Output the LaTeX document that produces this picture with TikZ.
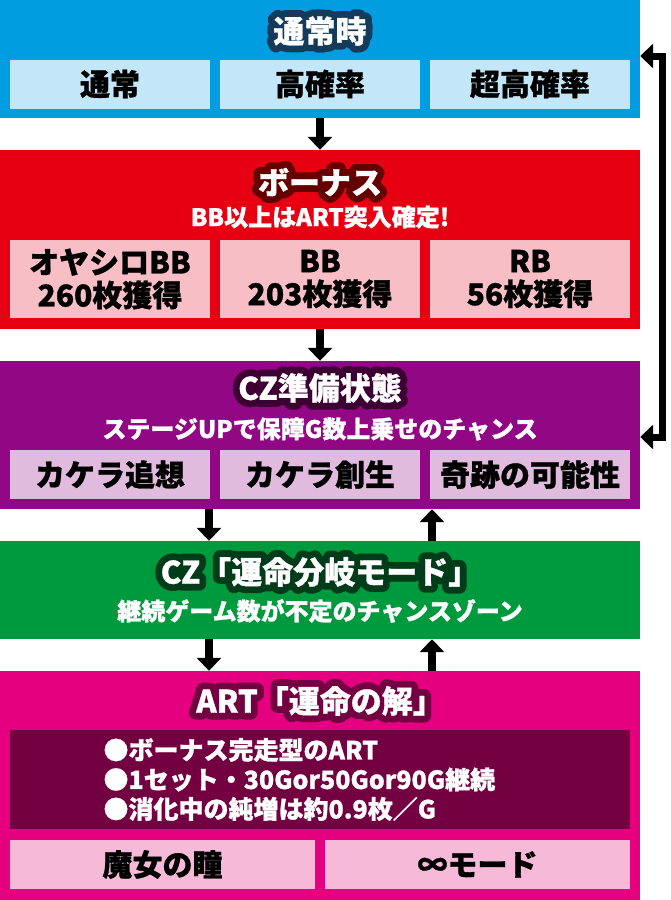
\documentclass[tikz,border=0pt]{standalone}
\usepackage{fontspec}
\setmainfont{Noto Sans CJK JP}[BoldFeatures={FakeBold=1}]
\newfontfamily\outlfont{Noto Sans CJK JP}[UprightFeatures={FakeBold=45}, BoldFeatures={FakeBold=45}]
\usetikzlibrary{arrows.meta}

\definecolor{normblue}{RGB}{0,158,224}
\definecolor{normlight}{RGB}{195,230,248}
\definecolor{normdark}{RGB}{20,60,90}
\definecolor{bonred}{RGB}{230,0,18}
\definecolor{bonlight}{RGB}{248,190,198}
\definecolor{bondark}{RGB}{100,0,0}
\definecolor{prepurple}{RGB}{146,7,131}
\definecolor{prelight}{RGB}{224,187,221}
\definecolor{predark}{RGB}{60,0,50}
\definecolor{czgreen}{RGB}{0,154,62}
\definecolor{czdark}{RGB}{0,60,25}
\definecolor{artpink}{RGB}{228,0,127}
\definecolor{artlight}{RGB}{246,186,216}
\definecolor{artdark}{RGB}{115,0,65}

% white title with a dark rim
\newcommand{\ttlnode}[4]{%
  \node [title, text=#2, line join=round, font=\outlfont\bfseries\fontsize{31}{34}\selectfont] (#1rim) at (#3) {\special{pdf:code 1 j}#4};
  \node [title, text=white] (#1) at (#3) {#4};}

\begin{document}
\begin{tikzpicture}[x=1pt, y=-1pt,
  panel/.style={inner sep=0, minimum width=640pt},
  subbox/.style={inner sep=0, minimum width=200pt, minimum height=49pt, font=\bfseries\fontsize{30}{33}\selectfont, align=center},
  title/.style={font=\bfseries\fontsize{31}{34}\selectfont},
  sub/.style={font=\bfseries\fontsize{24}{27}\selectfont, text=white},
  flow/.style={line width=8pt, -{Triangle[width=24pt,length=13pt]}}]

\useasboundingbox (0,0) rectangle (670,900);

% panels
\node [panel, fill=normblue, minimum height=118pt] (normal) at (320,59) {};
\node [panel, fill=bonred, minimum height=179pt] (bonus) at (320,239.5) {};
\node [panel, fill=prepurple, minimum height=148pt] (prep) at (320,435) {};
\node [panel, fill=czgreen, minimum height=98pt] (czmode) at (320,590) {};
\node [panel, fill=artpink, minimum height=229pt] (art) at (320,785.5) {};

% normal
\ttlnode{normalt}{normdark}{320,31}{通常時}
\node [subbox, fill=normlight] (n1) at (110,84) {通常};
\node [subbox, fill=normlight] (n2) at (320,84) {高確率};
\node [subbox, fill=normlight] (n3) at (530,84) {超高確率};

% bonus
\ttlnode{bonust}{bondark}{320,182}{ボーナス}
\node [sub] (bonuss) at (320,217) {BB以上はART突入確定!};
\node [subbox, fill=bonlight, minimum height=78pt] (b1) at (110,279) {オヤシロBB\\260枚獲得};
\node [subbox, fill=bonlight, minimum height=78pt] (b2) at (320,279) {BB\\203枚獲得};
\node [subbox, fill=bonlight, minimum height=78pt] (b3) at (530,279) {RB\\56枚獲得};

% cz prep
\ttlnode{prept}{predark}{320,388}{CZ準備状態}
\node [sub] (preps) at (320,429) {ステージUPで保障G数上乗せのチャンス};
\node [subbox, fill=prelight] (p1) at (110,474.5) {カケラ追想};
\node [subbox, fill=prelight] (p2) at (320,474.5) {カケラ創生};
\node [subbox, fill=prelight] (p3) at (530,474.5) {奇跡の可能性};

% cz
\ttlnode{czt}{czdark}{320,572}{CZ「運命分岐モード」}
\node [sub] (czs) at (320,611) {継続ゲーム数が不定のチャンスゾーン};

% art
\ttlnode{artt}{artdark}{320,701}{ART「運命の解」}
\node [fill=artdark, inner sep=0, minimum width=620pt, minimum height=99pt] (artbox) at (320,779.5) {};
\node [anchor=west, text=white, align=left, font=\bfseries\fontsize{25}{29.5}\selectfont] (artlist) at (100,779.5)
  {●ボーナス完走型のART\\●1セット・30Gor50Gor90G継続\\●消化中の純増は約0.9枚／G};
\node [subbox, fill=artlight, minimum width=305pt] (a1) at (162.5,864.5) {魔女の瞳};
\node [subbox, fill=artlight, minimum width=305pt] (a2) at (477.5,864.5) {∞モード};

% arrows
\draw [flow] (normal.south) -- (bonus.north);
\draw [flow] (bonus.south) -- (prep.north);
\draw [flow] ([xshift=-111pt]prep.south) -- ([xshift=-111pt]czmode.north);
\draw [flow] ([xshift=112pt]czmode.north) -- ([xshift=112pt]prep.south);
\draw [flow] ([xshift=-111pt]czmode.south) -- ([xshift=-111pt]art.north);
\draw [flow] ([xshift=112pt]art.north) -- ([xshift=112pt]czmode.south);
\draw [line width=7pt, {Triangle[width=24pt,length=13pt]}-{Triangle[width=24pt,length=13pt]}]
  ([yshift=-2pt]prep.east) -- ++(22,0) |- ([yshift=3pt]normal.east);

\end{tikzpicture}
\end{document}
